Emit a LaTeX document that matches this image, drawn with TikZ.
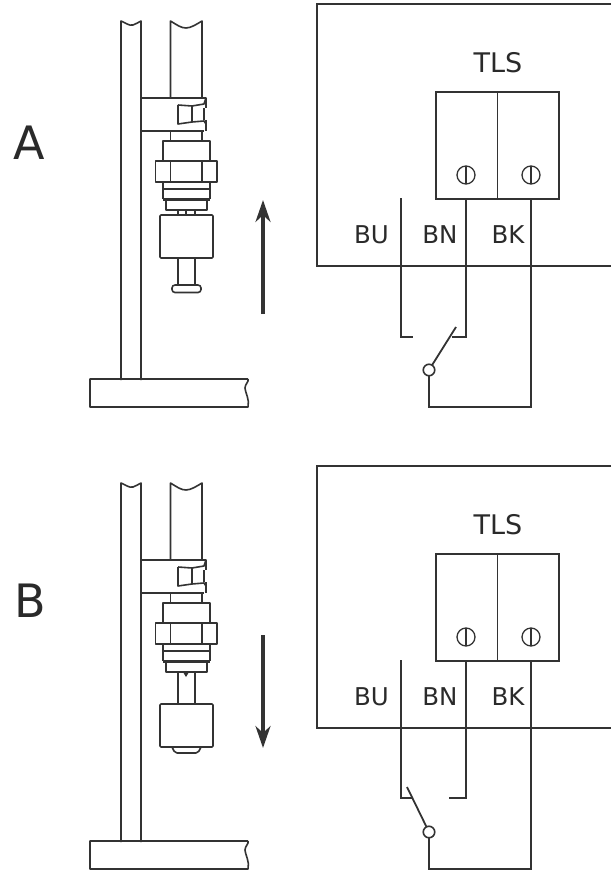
\documentclass[tikz,border=0pt]{standalone}
\usepackage{fontspec}
\setmainfont{DejaVu Sans}
\usepackage{xcolor}
\usetikzlibrary{arrows.meta}
\definecolor{ink}{HTML}{333333}
\definecolor{txt}{HTML}{2A2A2A}
\tikzset{
  part/.style={draw=ink, line width=1.6pt, line join=round},
  wire/.style={draw=ink, line width=1.8pt},
  thinw/.style={draw=ink, line width=1.2pt},
  screw/.style={circle, draw=ink, line width=1.3pt, minimum size=18pt, inner sep=0pt, outer sep=0pt},
  pivot/.style={circle, draw=ink, line width=1.6pt, fill=white, minimum size=11.5pt, inner sep=0pt, outer sep=0pt},
  tlsbox/.style={draw=ink, line width=1.8pt, minimum width=123pt, minimum height=107pt, inner sep=0pt, outer sep=0pt},
  motion/.style={draw=ink, line width=4pt, -{Stealth[length=22pt,width=15pt]}},
  wirelab/.style={text=txt, font=\fontsize{24.5}{25}\selectfont, inner sep=0pt},
  titlelab/.style={text=txt, font=\fontsize{27}{27}\selectfont, inner sep=0pt},
  letter/.style={text=txt, font=\fontsize{46}{46}\selectfont, inner sep=0pt}
}

\begin{document}
\begin{tikzpicture}[x=1pt,y=-1pt]
  \useasboundingbox (0,0) rectangle (611,872);

  \foreach \pname/\pshift in {a/0,b/462}{
  \begin{scope}[yshift=-\pshift pt, name prefix=\pname-]
    % post and tube
    \draw[part] (121,380)--(121,21) .. controls (126,23) and (129,26) .. (133,25) .. controls (136,24) and (139,22) .. (141,21)--(141,380);
    \draw[part] (170.5,98)--(170.5,21) .. controls (177,25) and (181,28) .. (186,28) .. controls (191,28) and (197,24) .. (202,21)--(202,98);
    % foot
    \draw[part] (248,379)--(90,379)--(90,407)--(248,407) .. controls (250,400) and (245,392) .. (245,388) .. controls (245,384) and (249,382) .. (248,379);
    % clamp
    \draw[part] (141,98)--(206,98)--(206,108);
    \draw[part] (141,131)--(204,131);
    \draw[part] (206,120)--(206,131);
    \draw[part] (178,105)--(192,106)--(204,104)--(206,98);
    \draw[part] (178,105)--(178,124)--(192,122)--(204,121)--(206,124);
    \draw[part] (192,106)--(192,122);
    \draw[thinw] (204,108)--(204,120);
    % nut and body
    \draw[part] (170.5,131)--(170.5,141);
    \draw[part] (202,131)--(202,141);
    \draw[part] (163,161)--(163,141)--(210,141)--(210,161);
    \draw[part] (155.5,161) rectangle (217,182);
    \draw[part] (170.5,161)--(170.5,182);
    \draw[part] (202,161)--(202,182);
    \draw[part] (163,182)--(163,199);
    \draw[part] (210,182)--(210,199);
    \draw[part] (163,189)--(210,189);
    \draw[draw=ink, line width=3.5pt] (163,199.5)--(210,199.5);
    \draw[part] (166,200)--(166,210)--(207,210)--(207,200);

    % terminal box
    \draw[wire] (611,4)--(317,4)--(317,266)--(611,266);
    \node[titlelab] (tlslab) at (498,63) {TLS};
    \node[tlsbox] (tls) at (497.5,145.5) {};
    \draw[thinw] (tls.north)--(tls.south);
    \node[screw] (s1) at (466,175) {};
    \node[screw] (s2) at (531,175) {};
    \draw[thinw] (s1.north)--(s1.south);
    \draw[thinw] (s2.north)--(s2.south);
    \node[wirelab] (bu) at (371.5,235) {BU};
    \node[wirelab] (bn) at (440,235) {BN};
    \node[wirelab] (bk) at (508,235) {BK};
  \end{scope}
  }

  % A: float up, contact closed on BN
  \begin{scope}[name prefix=a-]
    \draw[part] (178,210)--(178,215);
    \draw[part] (186,210)--(186,215);
    \draw[part] (195,210)--(195,215);
    \draw[part, rounded corners=1pt] (160,215) rectangle (213,258);
    \draw[part] (178,258)--(178,285);
    \draw[part] (195,258)--(195,285);
    \draw[part, fill=white, rounded corners=3pt] (172,285) rectangle (201,292.5);
    \coordinate (arrs) at (263,314);
    \coordinate (arre) at (263,200);
    \draw[motion] (arrs)--(arre);
    \node[letter] (letter) at (29,143) {A};

    \coordinate (but) at (401,198);
    \coordinate (bub) at (401,337);
    \coordinate (bue) at (413,337);
    \coordinate (bnt) at (466,199);
    \coordinate (bnb) at (466,337);
    \coordinate (bne) at (452,337);
    \coordinate (bkt) at (531,199);
    \coordinate (bkb) at (531,407);
    \coordinate (pvb) at (429,407);
    \coordinate (arm) at (456,327);
    \node[pivot] (pv) at (429,370) {};
    \draw[wire] (but)--(bub)--(bue);
    \draw[wire] (bnt)--(bnb)--(bne);
    \draw[wire] (bkt)--(bkb)--(pvb)--(pv);
    \draw[wire] (pv)--(arm);
  \end{scope}

  % B: float down, contact closed on BU
  \begin{scope}[name prefix=b-]
    \draw[part] (178,672)--(178,704);
    \draw[part] (195,672)--(195,704);
    \fill[ink] (183,672)--(189,672)--(186,677)--cycle;
    \draw[part, rounded corners=1pt] (160,704) rectangle (213,747);
    \draw[part, rounded corners=2pt] (172,747)--(175,753)--(198,753)--(201,747);
    \coordinate (arrs) at (263,635);
    \coordinate (arre) at (263,748);
    \draw[motion] (arrs)--(arre);
    \node[letter] (letter) at (30,601) {B};

    \coordinate (but) at (401,660);
    \coordinate (bub) at (401,798);
    \coordinate (bue) at (413,798);
    \coordinate (bnt) at (466,661);
    \coordinate (bnb) at (466,798);
    \coordinate (bne) at (449,798);
    \coordinate (bkt) at (531,661);
    \coordinate (bkb) at (531,869);
    \coordinate (pvb) at (429,869);
    \coordinate (arm) at (407,787);
    \node[pivot] (pv) at (429,832) {};
    \draw[wire] (but)--(bub)--(bue);
    \draw[wire] (bnt)--(bnb)--(bne);
    \draw[wire] (bkt)--(bkb)--(pvb)--(pv);
    \draw[wire] (pv)--(arm);
  \end{scope}
\end{tikzpicture}
\end{document}
